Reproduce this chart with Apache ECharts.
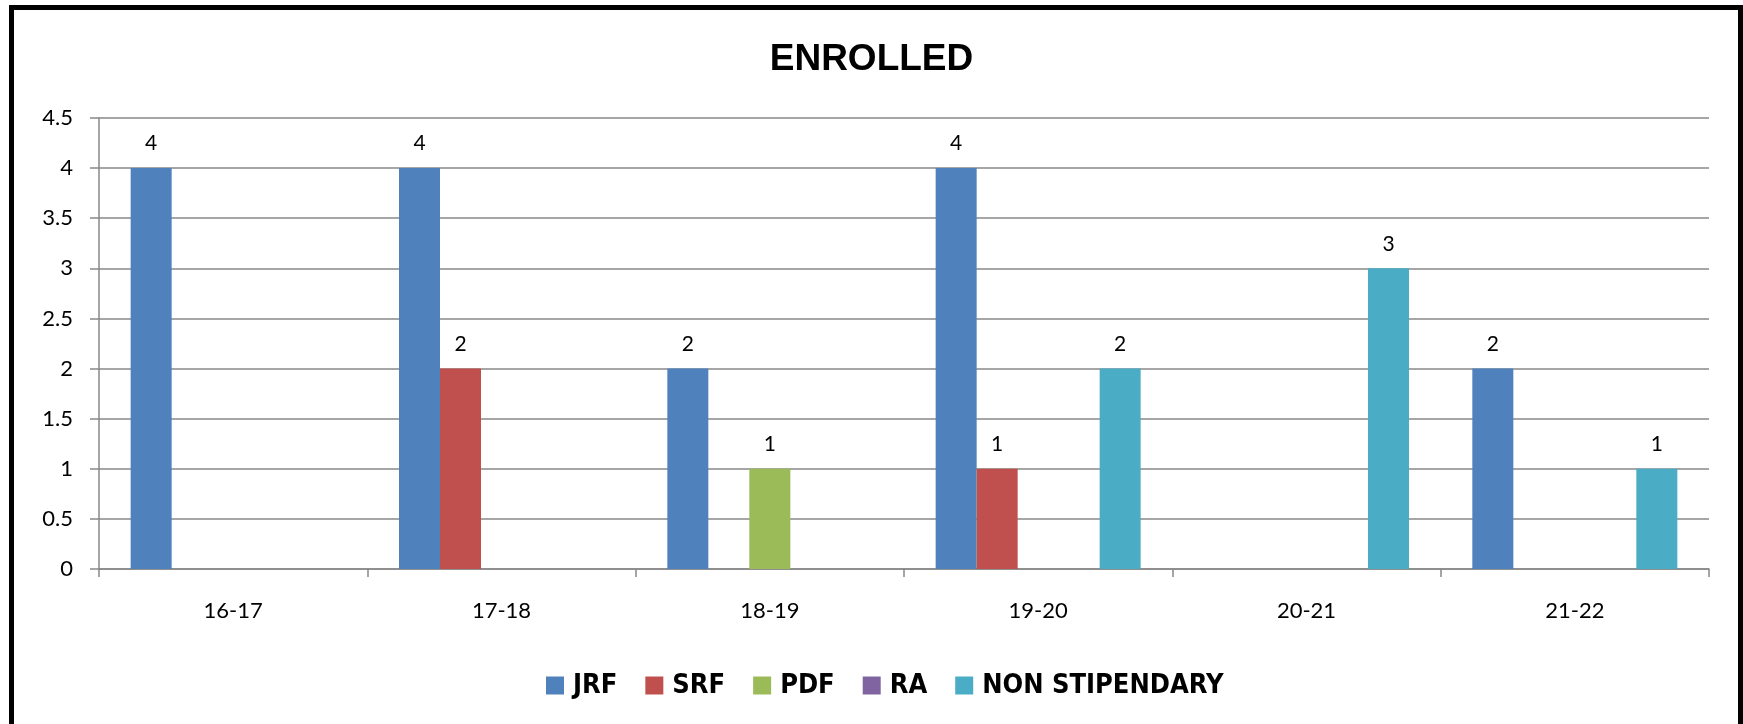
<!DOCTYPE html>
<html>
<head>
<meta charset="utf-8">
<script src="https://cdn.jsdelivr.net/npm/echarts@6/dist/echarts.min.js"></script>
<style>
  html, body { margin: 0; padding: 0; background: #fff; }
  #chart { width: 1743px; height: 724px; }
</style>
</head>
<body>
<div id="chart"></div>
<script>
// data
var years = ['16-17', '17-18', '18-19', '19-20', '20-21', '21-22'];
var jrf = [4, 4, 2, 4, 0, 2];
var srf = [0, 2, 0, 1, 0, 0];
var pdf = [0, 0, 1, 0, 0, 0];
var ra = [0, 0, 0, 0, 0, 0];
var nonStip = [0, 0, 0, 2, 3, 1];

var names = ['JRF', 'SRF', 'PDF', 'RA', 'NON STIPENDARY'];
var colors = ['#4F81BD', '#C0504D', '#9BBB59', '#8064A2', '#4BACC6'];
var values = [jrf, srf, pdf, ra, nonStip];

var font = "Lato, 'Open Sans', sans-serif";

var myChart = echarts.init(document.getElementById('chart'));

var series = names.map(function (n, i) {
    return {
        name: n,
        type: 'bar',
        barWidth: 41,
        barGap: '0%',
        itemStyle: {color: colors[i]},
        label: {
            show: true,
            position: 'top',
            distance: 14,
            color: '#000',
            fontFamily: font,
            fontSize: 21,
            formatter: function (p) { return p.value ? p.value : ''; }
        },
        data: values[i]
    };
});

myChart.setOption({
    animation: false,
    color: colors,
    title: {
        text: 'ENROLLED',
        left: 'center',
        top: 36,
        textStyle: {
            fontFamily: "'Liberation Sans', Arial, sans-serif",
            fontWeight: 'bold',
            fontSize: 37,
            color: '#000'
        }
    },
    legend: {
        data: names,
        bottom: 20,
        left: 541,
        itemWidth: 18,
        itemHeight: 18,
        itemGap: 28,
        icon: 'rect',
        textStyle: {
            fontFamily: "'Liberation Sans Narrow', 'DejaVu Sans Condensed', sans-serif",
            fontWeight: 'bold',
            fontSize: 27,
            color: '#000',
            padding: [0, 0, 0, 4]
        }
    },
    graphic: [{
        type: 'rect',
        left: 9,
        top: 5,
        shape: {width: 1729, height: 760},
        style: {fill: 'none', stroke: '#000', lineWidth: 5}
    }],
    grid: {
        left: 99,
        right: 34,
        top: 118,
        bottom: 155
    },
    xAxis: {
        type: 'category',
        data: years,
        axisLine: {lineStyle: {color: '#888', width: 1.5}},
        axisTick: {show: true, length: 8, lineStyle: {color: '#888', width: 1.5}},
        axisLabel: {color: '#000', fontFamily: font, fontSize: 22, margin: 31}
    },
    yAxis: {
        type: 'value',
        min: 0,
        max: 4.5,
        interval: 0.5,
        axisLine: {show: true, lineStyle: {color: '#888', width: 1.5}},
        axisTick: {show: true, length: 9, lineStyle: {color: '#888', width: 1.5}},
        splitLine: {lineStyle: {color: '#888', width: 1.5}},
        axisLabel: {color: '#000', fontFamily: font, fontSize: 22, margin: 26}
    },
    series: series
});
</script>
</body>
</html>
